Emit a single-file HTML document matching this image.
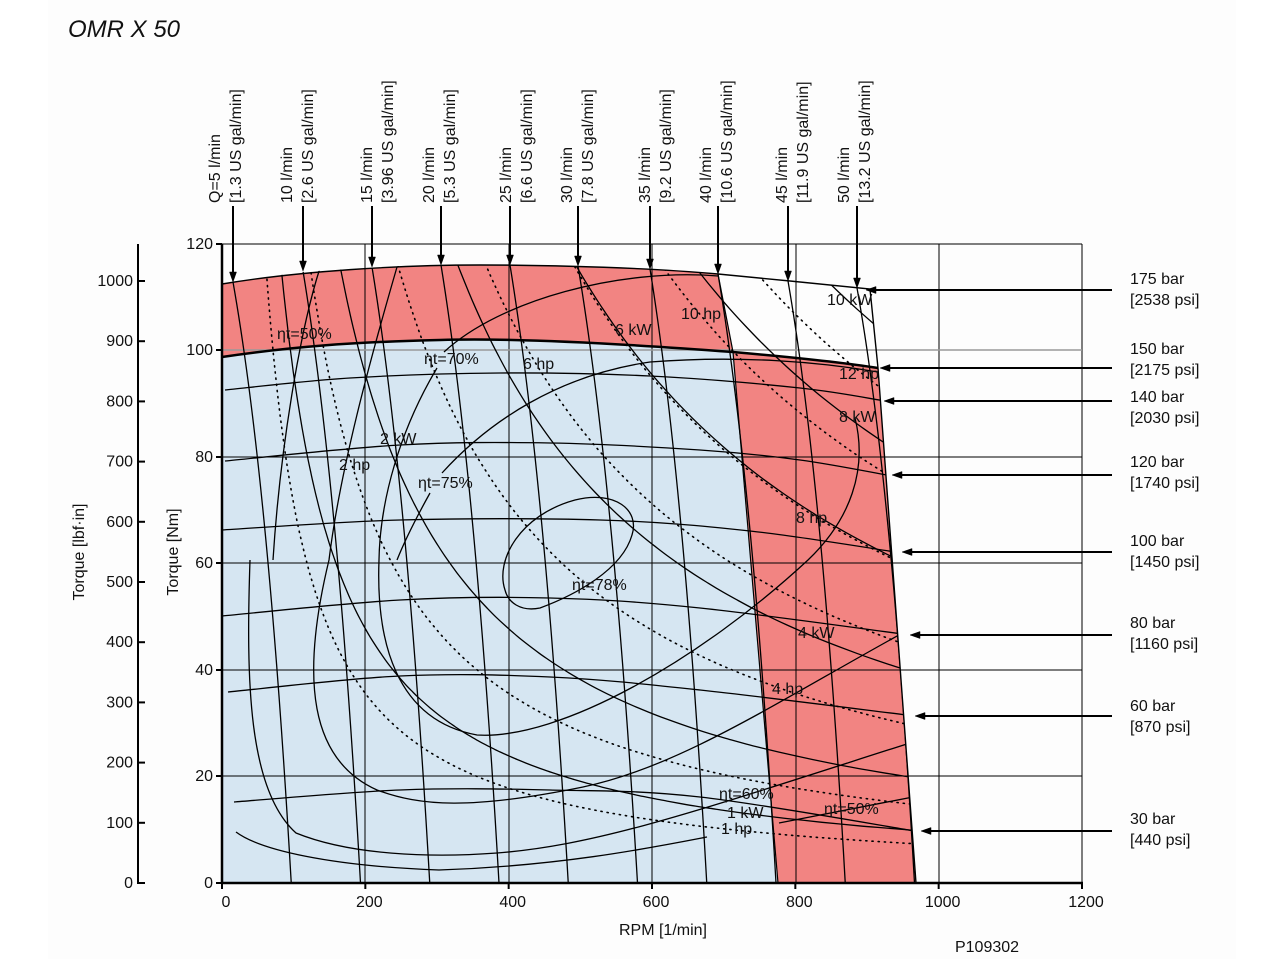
<!DOCTYPE html>
<html><head><meta charset="utf-8"><style>
html,body{margin:0;padding:0;background:#fff;}
svg{display:block;font-family:"Liberation Sans",sans-serif;}
</style></head><body>
<svg id="s" width="1278" height="959" viewBox="0 0 1278 959" xmlns="http://www.w3.org/2000/svg">
<rect x="0" y="0" width="1278" height="959" fill="#fff"/>
<rect x="48" y="0" width="1188" height="959" fill="#fdfdfd"/>
<text x="68" y="37" font-size="24" font-style="italic" fill="#111">OMR X 50</text>
<defs>
<clipPath id="env"><path id="envp" d="M222,284 L300,272 L400,266 L480,265 L560,266 L650,269 L718,274 L790,281 L870,289 L878,368 L916,883 L222,883 Z"/></clipPath>
</defs>
<path d="M222,284 C300,271 400,265 480,265 C560,265 650,268 718,274 L733,352 C600,342 500,338 440,340 C350,342 290,347 222,357 Z" fill="#f28482"/>
<path d="M733,352 C790,357 840,362 878,368 L916,883 L778,883 Z" fill="#f28482"/>
<path d="M222,357 C290,347 350,342 440,340 C500,338 600,342 733,352 L778,883 L222,883 Z" fill="#d6e6f2"/>
<g stroke="#000" stroke-width="1">
<line x1="222" y1="244" x2="1082" y2="244"/>
<line x1="1082" y1="244" x2="1082" y2="883"/>
<line x1="222" y1="457" x2="1082" y2="457"/>
<line x1="222" y1="563" x2="1082" y2="563"/>
<line x1="222" y1="670" x2="1082" y2="670"/>
<line x1="222" y1="776" x2="1082" y2="776"/>
<line x1="365" y1="244" x2="365" y2="883"/>
<line x1="509" y1="244" x2="509" y2="883"/>
<line x1="652" y1="244" x2="652" y2="883"/>
<line x1="796" y1="244" x2="796" y2="883"/>
<line x1="939" y1="244" x2="939" y2="883"/>
</g>
<line x1="222" y1="350" x2="1082" y2="350" stroke="#999" stroke-width="1.5"/>
<g id="curves" clip-path="url(#env)" fill="none" stroke="#000" stroke-width="1.3"></g>
<path d="M222,284 C300,271 400,265 480,265 C560,265 650,268 718,274 L790,281 L870,289 L878,368 L916,883" fill="none" stroke="#000" stroke-width="1.4"/>
<path d="M222,357 C290,347 350,342 440,340 C500,338 600,342 733,352 C790,357 840,362 878,368" fill="none" stroke="#000" stroke-width="2.5"/>
<line x1="718" y1="274" x2="733" y2="352" stroke="#000" stroke-width="1.2"/>
<line x1="733" y1="352" x2="778" y2="883" stroke="#000" stroke-width="1.2"/>
<line x1="222" y1="244" x2="222" y2="884" stroke="#000" stroke-width="2.5"/>
<line x1="221" y1="883" x2="1083" y2="883" stroke="#000" stroke-width="2.5"/>
<line x1="138" y1="244" x2="138" y2="884" stroke="#000" stroke-width="2"/>
<g id="ticks" stroke="#000" stroke-width="2"></g>
<g id="txt" font-size="16" fill="#111"></g>
<g id="arrows" stroke="#000" stroke-width="2" fill="#000"></g>
</svg>
<script>
var NS="http://www.w3.org/2000/svg";
function el(p,tag,a,t){var e=document.createElementNS(NS,tag);for(var k in a)e.setAttribute(k,a[k]);if(t!==undefined)e.textContent=t;document.getElementById(p).appendChild(e);return e;}
function X(r){return 222+r*0.716667;}
function Y(t){return 883-t*5.325;}
function smooth(p){var d="M"+p[0][0]+","+p[0][1];for(var i=0;i<p.length-1;i++){var p0=p[i-1]||p[i],p1=p[i],p2=p[i+1],p3=p[i+2]||p2;
d+=" C"+(p1[0]+(p2[0]-p0[0])/6).toFixed(1)+","+(p1[1]+(p2[1]-p0[1])/6).toFixed(1)+" "+(p2[0]-(p3[0]-p1[0])/6).toFixed(1)+","+(p2[1]-(p3[1]-p1[1])/6).toFixed(1)+" "+p2[0]+","+p2[1];}return d;}
function hyp(kw,dot){var pts=[];var r0=kw*9549/125;for(var r=r0;r<=1250;r*=1.03){var t=kw*9549/r;pts.push([+X(r).toFixed(1),+Y(t).toFixed(1)]);}
var a={d:smooth(pts)};if(dot){a["stroke-dasharray"]="1.2 5";a["stroke-linecap"]="round";a["stroke-width"]="1.6";}el("curves","path",a);}
[1,2,4,6,8,10].forEach(function(k){hyp(k,false);});
[1,2,4,6,8,10,12].forEach(function(h){hyp(h*0.7457,true);});
var tops=[[233,282],[303,271],[372,267],[441,265],[510,265],[578,266],[650,269],[718,274],[788,281],[857,288]];
tops.forEach(function(t,i){var q=5*(i+1);var xb=222+q*13.85;var d=xb-t[0];
el("curves","path",{d:"M"+t[0]+","+t[1]+" Q"+(t[0]+0.6*d)+",480 "+xb+",883"});});
var pl=[
[[225,390],[350,378],[500,373],[650,376],[800,388],[885,401]],
[[225,461],[400,445],[550,443],[700,450],[800,460],[892,476]],
[[222,530],[400,520],[600,520],[750,531],[902,553]],
[[222,616],[400,600],[550,598],[700,608],[910,635]],
[[228,692],[400,676],[550,677],[700,690],[915,716]],
[[234,802],[400,790],[550,790],[700,797],[921,832]]];
pl.forEach(function(p){el("curves","path",{d:smooth(p)});});
["M320,268 C300,330 280,450 273,560",
"M250,560 C246,680 248,790 296,833 C350,855 430,858 497,853 C600,845 700,810 913,742",
"M236,832 C260,850 330,866 439,870 C560,866 650,848 707,837",
"M779,823 L913,797",
"M397,267 C370,360 340,470 329,560 C300,680 310,760 377,790 C420,806 470,810 583,787 C680,767 780,700 908,630",
"M718,276 C620,268 500,300 444,352",
"M437,368 C400,430 380,500 379,560 C376,640 395,720 477,735 C560,740 700,660 808,560 C850,520 868,470 855,418",
"M442,473 C490,420 560,375 650,362 C740,355 820,362 878,372",
"M430,493 C415,520 405,540 397,560",
"M505,590 C495,560 520,515 575,500 C615,490 640,510 632,535 C622,570 575,595 540,608 C520,612 508,602 505,590 Z"
].forEach(function(d){el("curves","path",{d:d});});
[[0,883],[20,776],[40,670],[60,563],[80,457],[100,350],[120,244]].forEach(function(a){
el("ticks","line",{x1:216,y1:a[1],x2:222,y2:a[1]});
el("txt","text",{x:213,y:a[1]+5,"text-anchor":"end"},a[0]);});
for(var i=0;i<=10;i++){var yy=883-i*60.2;el("ticks","line",{x1:138,y1:yy,x2:145,y2:yy});
el("txt","text",{x:133,y:yy+5,"text-anchor":"end"},i*100);}
[0,200,400,600,800,1000,1200].forEach(function(v){var xx=X(v);el("ticks","line",{x1:xx,y1:883,x2:xx,y2:889});
el("txt","text",{x:xx+4,y:907,"text-anchor":"middle"},v);});
el("txt","text",{x:663,y:935,"text-anchor":"middle"},"RPM [1/min]");
el("txt","text",{x:987,y:952,"text-anchor":"middle"},"P109302");
el("txt","text",{transform:"translate(84,552) rotate(-90)","text-anchor":"middle"},"Torque [lbf·in]");
el("txt","text",{transform:"translate(178,552) rotate(-90)","text-anchor":"middle"},"Torque [Nm]");
var fl=[["Q=5 l/min","[1.3 US gal/min]"],["10 l/min","[2.6 US gal/min]"],["15 l/min","[3.96 US gal/min]"],["20 l/min","[5.3 US gal/min]"],["25 l/min","[6.6 US gal/min]"],["30 l/min","[7.8 US gal/min]"],["35 l/min","[9.2 US gal/min]"],["40 l/min","[10.6 US gal/min]"],["45 l/min","[11.9 US gal/min]"],["50 l/min","[13.2 US gal/min]"]];
var fx=[214,286,366,428,505,566,644,705,781,843];
fl.forEach(function(f,i){el("txt","text",{transform:"translate("+(fx[i]+6)+",203) rotate(-90)"},f[0]);
el("txt","text",{transform:"translate("+(fx[i]+27)+",203) rotate(-90)"},f[1]);
var t=tops[i];el("arrows","line",{x1:t[0],y1:206,x2:t[0],y2:t[1]-8});
el("arrows","path",{d:"M"+(t[0]-3.5)+","+(t[1]-10)+" L"+(t[0]+3.5)+","+(t[1]-10)+" L"+t[0]+","+t[1]+" Z","stroke-width":"0.5"});});
var pr=[["175 bar","[2538 psi]",290,866],["150 bar","[2175 psi]",368,880],["140 bar","[2030 psi]",401,884],["120 bar","[1740 psi]",475,892],["100 bar","[1450 psi]",552,902],["80 bar","[1160 psi]",635,910],["60 bar","[870 psi]",716,915],["30 bar","[440 psi]",831,921]];
var py=[278,348,396,461,540,622,705,818];
pr.forEach(function(p,i){el("txt","text",{x:1130,y:py[i]+6},p[0]);el("txt","text",{x:1130,y:py[i]+27},p[1]);
el("arrows","line",{x1:1112,y1:p[2],x2:p[3]+9,y2:p[2]});
el("arrows","path",{d:"M"+(p[3]+10)+","+(p[2]-3.5)+" L"+(p[3]+10)+","+(p[2]+3.5)+" L"+p[3]+","+p[2]+" Z","stroke-width":"0.5"});});
[["ηt=50%",277,339],["ηt=70%",424,364],["6 hp",523,369],["6 kW",615,335],["10 hp",681,319],["10 kW",827,305],["12 hp",839,379],["8 kW",839,422],["2 kW",380,444],["2 hp",339,470],["ηt=75%",418,488],["8 hp",796,523],["ηt=78%",572,590],["4 kW",798,638],["4 hp",772,694],["ηt=60%",719,799],["1 kW",727,818],["1 hp",721,834],["ηt=50%",824,814]].forEach(function(l){
el("txt","text",{x:l[1],y:l[2]},l[0]);});
</script>
</body></html>
